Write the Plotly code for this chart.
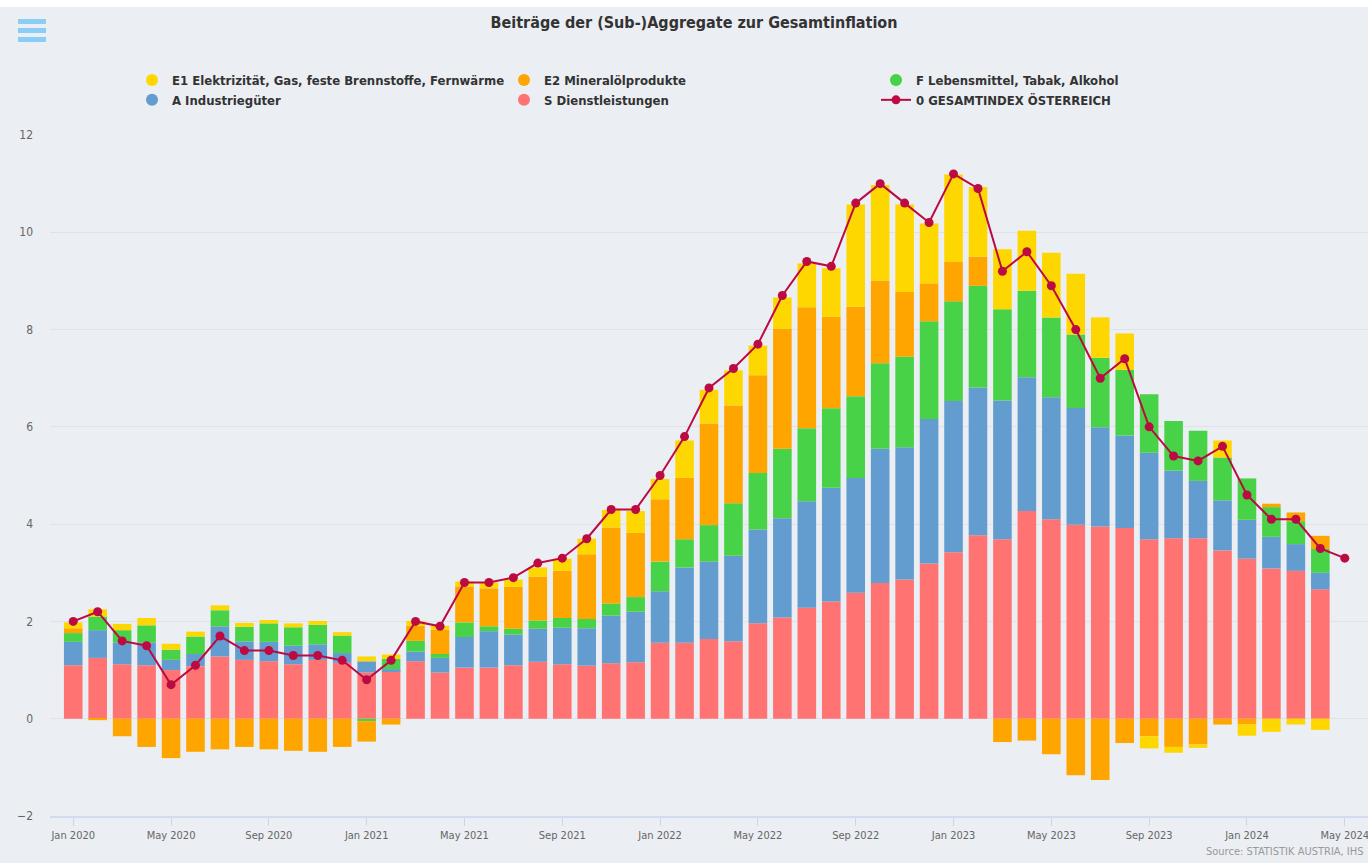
import pandas as pd
import plotly.graph_objects as go

# ---------------- data ----------------
months = pd.date_range("2020-01-01", "2024-05-01", freq="MS").strftime("%b %Y").tolist()

tick_labels = ["Jan 2020", "May 2020", "Sep 2020", "Jan 2021", "May 2021", "Sep 2021",
               "Jan 2022", "May 2022", "Sep 2022", "Jan 2023", "May 2023", "Sep 2023",
               "Jan 2024", "May 2024"]

# S Dienstleistungen
s_dienst = [1.10, 1.25, 1.12, 1.10, 1.00, 1.08, 1.28, 1.21, 1.18, 1.12, 1.21, 1.15,
            0.95, 0.98, 1.18, 0.95, 1.05, 1.05, 1.10, 1.17, 1.12, 1.09, 1.14, 1.16,
            1.56, 1.56, 1.64, 1.59, 1.96, 2.08, 2.28, 2.41, 2.59, 2.79, 2.86, 3.19,
            3.42, 3.77, 3.69, 4.27, 4.10, 3.99, 3.95, 3.92, 3.69, 3.71, 3.71, 3.46,
            3.29, 3.09, 3.04, 2.66, None]
# A Industriegüter
a_industrie = [0.48, 0.57, 0.45, 0.47, 0.21, 0.25, 0.62, 0.38, 0.40, 0.38, 0.32, 0.20,
               0.23, 0.04, 0.20, 0.30, 0.63, 0.75, 0.63, 0.68, 0.75, 0.77, 0.98, 1.04,
               1.06, 1.55, 1.59, 1.76, 1.93, 2.04, 2.19, 2.34, 2.36, 2.76, 2.72, 2.97,
               3.11, 3.04, 2.85, 2.75, 2.51, 2.40, 2.04, 1.90, 1.78, 1.39, 1.18, 1.03,
               0.80, 0.65, 0.55, 0.34, None]
# F Lebensmittel, Tabak, Alkohol
f_lebensmittel = [0.18, 0.28, 0.25, 0.35, 0.21, 0.36, 0.33, 0.30, 0.38, 0.38, 0.40, 0.36,
                  -0.05, 0.21, 0.22, 0.08, 0.30, 0.10, 0.12, 0.17, 0.20, 0.19, 0.25, 0.30,
                  0.61, 0.58, 0.75, 1.08, 1.16, 1.43, 1.50, 1.63, 1.68, 1.76, 1.86, 2.01,
                  2.05, 2.09, 1.88, 1.78, 1.64, 1.51, 1.43, 1.35, 1.20, 1.02, 1.03, 0.88,
                  0.85, 0.61, 0.47, 0.49, None]
# E2 Mineralölprodukte
e2_mineraloel = [0.10, -0.03, -0.36, -0.58, -0.81, -0.68, -0.63, -0.58, -0.63, -0.66, -0.68, -0.58,
                 -0.42, -0.12, 0.31, 0.50, 0.74, 0.78, 0.86, 0.90, 0.97, 1.33, 1.56, 1.32,
                 1.28, 1.26, 2.09, 2.01, 2.01, 2.47, 2.49, 1.88, 1.84, 1.70, 1.33, 0.78,
                 0.81, 0.60, -0.48, -0.45, -0.73, -1.16, -1.26, -0.50, -0.36, -0.58, -0.53, -0.12,
                 -0.12, 0.07, 0.18, 0.27, None]
# E1 Elektrizität, Gas, feste Brennstoffe, Fernwärme
e1_energie = [0.12, 0.15, 0.13, 0.15, 0.12, 0.10, 0.10, 0.08, 0.07, 0.08, 0.08, 0.07,
              0.10, 0.09, 0.10, 0.08, 0.10, 0.12, 0.15, 0.19, 0.25, 0.32, 0.36, 0.45,
              0.42, 0.77, 0.69, 0.72, 0.61, 0.64, 0.90, 1.00, 2.10, 1.96, 1.80, 1.23,
              1.80, 1.43, 1.23, 1.23, 1.33, 1.25, 0.83, 0.75, -0.25, -0.12, -0.07, 0.35,
              -0.23, -0.27, -0.12, -0.23, None]
# 0 GESAMTINDEX ÖSTERREICH
gesamtindex = [2.0, 2.2, 1.6, 1.5, 0.7, 1.1, 1.7, 1.4, 1.4, 1.3, 1.3, 1.2,
               0.8, 1.2, 2.0, 1.9, 2.8, 2.8, 2.9, 3.2, 3.3, 3.7, 4.3, 4.3,
               5.0, 5.8, 6.8, 7.2, 7.7, 8.7, 9.4, 9.3, 10.6, 11.0, 10.6, 10.2,
               11.2, 10.9, 9.2, 9.6, 8.9, 8.0, 7.0, 7.4, 6.0, 5.4, 5.3, 5.6,
               4.6, 4.1, 4.1, 3.5, 3.3]

# ---------------- style ----------------
W, H = 1368, 863
ML, MR, MT, MB = 50, 0, 135, 47
BG = "#EBEEF3"
FONT = "Liberation Sans Narrow, DejaVu Sans Condensed, Arial Narrow, Roboto, sans-serif"

series = [  # (name, values, color, legend rank) -- stacking order bottom-up
    ("S Dienstleistungen", s_dienst, "#FF7373", 5),
    ("A Industriegüter", a_industrie, "#639DCF", 4),
    ("F Lebensmittel, Tabak, Alkohol", f_lebensmittel, "#48D248", 3),
    ("E2 Mineralölprodukte", e2_mineraloel, "#FFA500", 2),
    ("E1 Elektrizität, Gas, feste Brennstoffe, Fernwärme", e1_energie, "#FFD700", 1),
]

fig = go.Figure()
for name, vals, color, rank in series:
    fig.add_trace(go.Bar(
        x=months, y=vals, name=name, marker=dict(color=color, line=dict(width=0)),
        legendgroup=name, showlegend=False,
    ))
    # legend entry with a circle symbol (no data drawn)
    fig.add_trace(go.Scatter(
        x=[None], y=[None], mode="markers", name=name, legendgroup=name,
        legendrank=rank, marker=dict(color=color, size=12, symbol="circle"),
    ))

fig.add_trace(go.Scatter(
    x=months, y=gesamtindex, name="0 GESAMTINDEX ÖSTERREICH", mode="lines+markers",
    line=dict(color="#BC0A42", width=2), marker=dict(color="#BC0A42", size=9),
    legendrank=6,
))

pw = W - ML - MR
ph = H - MT - MB


def px_x(p):
    return (p - ML) / pw


def px_y(p):
    return (H - MB - p) / ph


shapes = [
    # white strip at top edge of page
    dict(type="rect", xref="paper", yref="paper", x0=px_x(0), x1=px_x(W), y0=px_y(7), y1=px_y(0),
         fillcolor="white", line=dict(width=0), layer="below"),
]
# hamburger menu icon
for top in (19, 28, 37):
    shapes.append(dict(type="rect", xref="paper", yref="paper",
                       x0=px_x(18), x1=px_x(46), y0=px_y(top + 5), y1=px_y(top),
                       fillcolor="#8CCDF7", line=dict(width=0), layer="above"))

fig.update_layout(
    width=W, height=H,
    margin=dict(l=ML, r=MR, t=MT, b=MB),
    paper_bgcolor=BG, plot_bgcolor=BG,
    barmode="relative", bargap=0.24,
    font=dict(family=FONT, color="#333333"),
    title=dict(text="Beiträge der (Sub-)Aggregate zur Gesamtinflation",
               x=694 / W, xref="container", xanchor="center",
               y=1 - 22 / H, yanchor="middle",
               font=dict(size=16, color="#333333", family=FONT, weight="bold")),
    legend=dict(orientation="h", x=px_x(132), y=px_y(65), xanchor="left", yanchor="top",
                entrywidth=327, entrywidthmode="pixels", bgcolor="rgba(0,0,0,0)",
                font=dict(size=13, color="#333333", family=FONT, weight="bold"),
                itemclick="toggle", tracegroupgap=0),
    xaxis=dict(type="category", range=[-0.95, 52.95],
               tickmode="array", tickvals=tick_labels, ticktext=tick_labels,
               ticks="outside", ticklen=8, tickcolor="#CCD6EB", tickwidth=1,
               showline=True, linecolor="#D3DCEE", linewidth=2,
               showgrid=False, tickfont=dict(size=11, color="#666666", family=FONT),
               fixedrange=True),
    yaxis=dict(range=[-2, 12], tickvals=[-2, 0, 2, 4, 6, 8, 10, 12],
               showgrid=True, gridcolor="#DFE2E8", gridwidth=1, zeroline=False,
               tickfont=dict(size=12, color="#666666", family=FONT),
               ticklabelstandoff=16, fixedrange=True),
    shapes=shapes,
    annotations=[dict(text="Source: STATISTIK AUSTRIA, IHS", xref="paper", yref="paper",
                      x=px_x(1366), y=px_y(851), xanchor="right", yanchor="middle",
                      showarrow=False, font=dict(size=11, color="#999999", family=FONT))],
    hovermode="x",
)

fig.write_html("out.html", config={"displayModeBar": False},
               post_script="document.body.style.margin='0';document.body.style.overflow='hidden';")
